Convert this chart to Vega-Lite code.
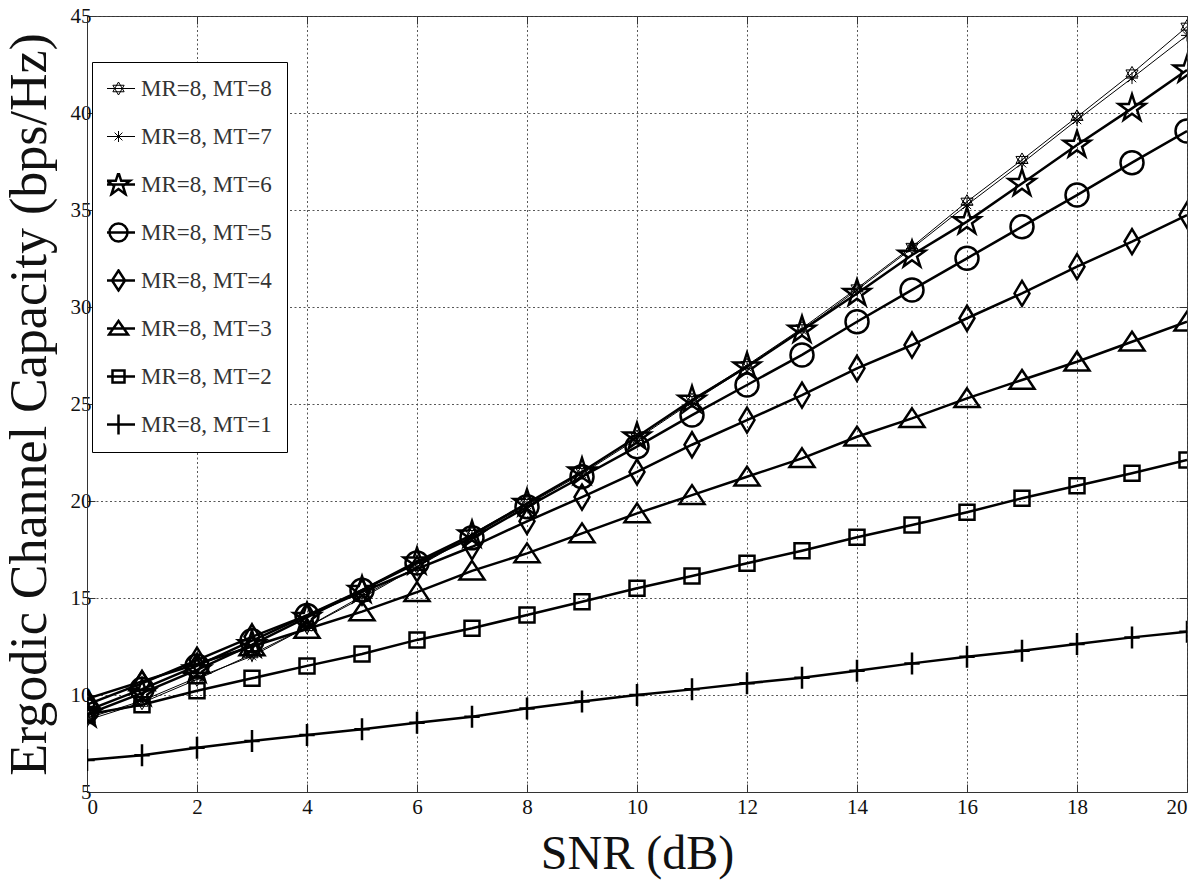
{
  "$schema": "https://vega.github.io/schema/vega-lite/v6.json",
  "width": 1100,
  "height": 776,
  "autosize": "none",
  "padding": {"left": 87, "top": 16, "right": 13, "bottom": 91},
  "background": "white",
  "config": {
    "view": {"stroke": "#333", "strokeWidth": 1},
    "axis": {
      "domainColor": "#333", "tickColor": "#333", "gridColor": "#444",
      "gridDash": [2, 2.5], "gridWidth": 0.9,
      "labelFont": "Liberation Serif", "labelColor": "#111",
      "titleFont": "Liberation Serif", "titleFontWeight": "normal", "titleColor": "#111"
    },
    "legend": {
      "orient": "none", "legendX": 5, "legendY": 46,
      "padding": 15, "rowPadding": 24, "clipHeight": 23, "labelFontSize": 23, "labelFont": "Liberation Serif", "labelColor": "#333",
      "labelOffset": 11, "symbolSize": 400, "strokeColor": "black", "fillColor": "white", "cornerRadius": 0,
      "symbolStrokeColor": "black", "symbolFillColor": "transparent"
    }
  },
  "datasets": {
    "cap": [
      {"snr": 0, "cap": 8.7, "series": "MR=8, MT=8"}, {"snr": 1, "cap": 9.6, "series": "MR=8, MT=8"}, {"snr": 2, "cap": 10.8, "series": "MR=8, MT=8"}, {"snr": 3, "cap": 12.1, "series": "MR=8, MT=8"}, {"snr": 4, "cap": 13.5, "series": "MR=8, MT=8"}, {"snr": 5, "cap": 15.0, "series": "MR=8, MT=8"}, {"snr": 6, "cap": 16.6, "series": "MR=8, MT=8"}, {"snr": 7, "cap": 18.3, "series": "MR=8, MT=8"}, {"snr": 8, "cap": 19.9, "series": "MR=8, MT=8"}, {"snr": 9, "cap": 21.5, "series": "MR=8, MT=8"}, {"snr": 10, "cap": 23.3, "series": "MR=8, MT=8"}, {"snr": 11, "cap": 25.2, "series": "MR=8, MT=8"}, {"snr": 12, "cap": 27.0, "series": "MR=8, MT=8"}, {"snr": 13, "cap": 28.9, "series": "MR=8, MT=8"}, {"snr": 14, "cap": 30.96, "series": "MR=8, MT=8"}, {"snr": 15, "cap": 33.1, "series": "MR=8, MT=8"}, {"snr": 16, "cap": 35.43, "series": "MR=8, MT=8"}, {"snr": 17, "cap": 37.58, "series": "MR=8, MT=8"}, {"snr": 18, "cap": 39.8, "series": "MR=8, MT=8"}, {"snr": 19, "cap": 42.04, "series": "MR=8, MT=8"}, {"snr": 20, "cap": 44.45, "series": "MR=8, MT=8"},
      {"snr": 0, "cap": 8.8, "series": "MR=8, MT=7"}, {"snr": 1, "cap": 9.7, "series": "MR=8, MT=7"}, {"snr": 2, "cap": 10.9, "series": "MR=8, MT=7"}, {"snr": 3, "cap": 12.0, "series": "MR=8, MT=7"}, {"snr": 4, "cap": 13.5, "series": "MR=8, MT=7"}, {"snr": 5, "cap": 15.1, "series": "MR=8, MT=7"}, {"snr": 6, "cap": 16.6, "series": "MR=8, MT=7"}, {"snr": 7, "cap": 18.2, "series": "MR=8, MT=7"}, {"snr": 8, "cap": 19.8, "series": "MR=8, MT=7"}, {"snr": 9, "cap": 21.4, "series": "MR=8, MT=7"}, {"snr": 10, "cap": 23.2, "series": "MR=8, MT=7"}, {"snr": 11, "cap": 25.1, "series": "MR=8, MT=7"}, {"snr": 12, "cap": 26.9, "series": "MR=8, MT=7"}, {"snr": 13, "cap": 28.8, "series": "MR=8, MT=7"}, {"snr": 14, "cap": 30.88, "series": "MR=8, MT=7"}, {"snr": 15, "cap": 33.02, "series": "MR=8, MT=7"}, {"snr": 16, "cap": 35.26, "series": "MR=8, MT=7"}, {"snr": 17, "cap": 37.41, "series": "MR=8, MT=7"}, {"snr": 18, "cap": 39.64, "series": "MR=8, MT=7"}, {"snr": 19, "cap": 41.8, "series": "MR=8, MT=7"}, {"snr": 20, "cap": 44.0, "series": "MR=8, MT=7"},
      {"snr": 0, "cap": 9.0, "series": "MR=8, MT=6"}, {"snr": 1, "cap": 10.1, "series": "MR=8, MT=6"}, {"snr": 2, "cap": 11.3, "series": "MR=8, MT=6"}, {"snr": 3, "cap": 12.6, "series": "MR=8, MT=6"}, {"snr": 4, "cap": 14.0, "series": "MR=8, MT=6"}, {"snr": 5, "cap": 15.4, "series": "MR=8, MT=6"}, {"snr": 6, "cap": 16.87, "series": "MR=8, MT=6"}, {"snr": 7, "cap": 18.25, "series": "MR=8, MT=6"}, {"snr": 8, "cap": 19.88, "series": "MR=8, MT=6"}, {"snr": 9, "cap": 21.5, "series": "MR=8, MT=6"}, {"snr": 10, "cap": 23.31, "series": "MR=8, MT=6"}, {"snr": 11, "cap": 25.2, "series": "MR=8, MT=6"}, {"snr": 12, "cap": 26.92, "series": "MR=8, MT=6"}, {"snr": 13, "cap": 28.81, "series": "MR=8, MT=6"}, {"snr": 14, "cap": 30.7, "series": "MR=8, MT=6"}, {"snr": 15, "cap": 32.68, "series": "MR=8, MT=6"}, {"snr": 16, "cap": 34.4, "series": "MR=8, MT=6"}, {"snr": 17, "cap": 36.37, "series": "MR=8, MT=6"}, {"snr": 18, "cap": 38.35, "series": "MR=8, MT=6"}, {"snr": 19, "cap": 40.24, "series": "MR=8, MT=6"}, {"snr": 20, "cap": 42.22, "series": "MR=8, MT=6"},
      {"snr": 0, "cap": 9.2, "series": "MR=8, MT=5"}, {"snr": 1, "cap": 10.3, "series": "MR=8, MT=5"}, {"snr": 2, "cap": 11.5, "series": "MR=8, MT=5"}, {"snr": 3, "cap": 12.8, "series": "MR=8, MT=5"}, {"snr": 4, "cap": 14.1, "series": "MR=8, MT=5"}, {"snr": 5, "cap": 15.4, "series": "MR=8, MT=5"}, {"snr": 6, "cap": 16.8, "series": "MR=8, MT=5"}, {"snr": 7, "cap": 18.1, "series": "MR=8, MT=5"}, {"snr": 8, "cap": 19.7, "series": "MR=8, MT=5"}, {"snr": 9, "cap": 21.25, "series": "MR=8, MT=5"}, {"snr": 10, "cap": 22.8, "series": "MR=8, MT=5"}, {"snr": 11, "cap": 24.43, "series": "MR=8, MT=5"}, {"snr": 12, "cap": 25.98, "series": "MR=8, MT=5"}, {"snr": 13, "cap": 27.53, "series": "MR=8, MT=5"}, {"snr": 14, "cap": 29.24, "series": "MR=8, MT=5"}, {"snr": 15, "cap": 30.88, "series": "MR=8, MT=5"}, {"snr": 16, "cap": 32.51, "series": "MR=8, MT=5"}, {"snr": 17, "cap": 34.14, "series": "MR=8, MT=5"}, {"snr": 18, "cap": 35.77, "series": "MR=8, MT=5"}, {"snr": 19, "cap": 37.44, "series": "MR=8, MT=5"}, {"snr": 20, "cap": 39.07, "series": "MR=8, MT=5"},
      {"snr": 0, "cap": 9.5, "series": "MR=8, MT=4"}, {"snr": 1, "cap": 10.6, "series": "MR=8, MT=4"}, {"snr": 2, "cap": 11.8, "series": "MR=8, MT=4"}, {"snr": 3, "cap": 13.0, "series": "MR=8, MT=4"}, {"snr": 4, "cap": 14.1, "series": "MR=8, MT=4"}, {"snr": 5, "cap": 15.3, "series": "MR=8, MT=4"}, {"snr": 6, "cap": 16.5, "series": "MR=8, MT=4"}, {"snr": 7, "cap": 17.64, "series": "MR=8, MT=4"}, {"snr": 8, "cap": 18.95, "series": "MR=8, MT=4"}, {"snr": 9, "cap": 20.2, "series": "MR=8, MT=4"}, {"snr": 10, "cap": 21.5, "series": "MR=8, MT=4"}, {"snr": 11, "cap": 22.9, "series": "MR=8, MT=4"}, {"snr": 12, "cap": 24.17, "series": "MR=8, MT=4"}, {"snr": 13, "cap": 25.46, "series": "MR=8, MT=4"}, {"snr": 14, "cap": 26.84, "series": "MR=8, MT=4"}, {"snr": 15, "cap": 28.04, "series": "MR=8, MT=4"}, {"snr": 16, "cap": 29.42, "series": "MR=8, MT=4"}, {"snr": 17, "cap": 30.7, "series": "MR=8, MT=4"}, {"snr": 18, "cap": 32.08, "series": "MR=8, MT=4"}, {"snr": 19, "cap": 33.37, "series": "MR=8, MT=4"}, {"snr": 20, "cap": 34.74, "series": "MR=8, MT=4"},
      {"snr": 0, "cap": 9.8, "series": "MR=8, MT=3"}, {"snr": 1, "cap": 10.7, "series": "MR=8, MT=3"}, {"snr": 2, "cap": 11.6, "series": "MR=8, MT=3"}, {"snr": 3, "cap": 12.5, "series": "MR=8, MT=3"}, {"snr": 4, "cap": 13.4, "series": "MR=8, MT=3"}, {"snr": 5, "cap": 14.3, "series": "MR=8, MT=3"}, {"snr": 6, "cap": 15.3, "series": "MR=8, MT=3"}, {"snr": 7, "cap": 16.4, "series": "MR=8, MT=3"}, {"snr": 8, "cap": 17.3, "series": "MR=8, MT=3"}, {"snr": 9, "cap": 18.33, "series": "MR=8, MT=3"}, {"snr": 10, "cap": 19.36, "series": "MR=8, MT=3"}, {"snr": 11, "cap": 20.3, "series": "MR=8, MT=3"}, {"snr": 12, "cap": 21.25, "series": "MR=8, MT=3"}, {"snr": 13, "cap": 22.2, "series": "MR=8, MT=3"}, {"snr": 14, "cap": 23.31, "series": "MR=8, MT=3"}, {"snr": 15, "cap": 24.26, "series": "MR=8, MT=3"}, {"snr": 16, "cap": 25.29, "series": "MR=8, MT=3"}, {"snr": 17, "cap": 26.24, "series": "MR=8, MT=3"}, {"snr": 18, "cap": 27.18, "series": "MR=8, MT=3"}, {"snr": 19, "cap": 28.21, "series": "MR=8, MT=3"}, {"snr": 20, "cap": 29.24, "series": "MR=8, MT=3"},
      {"snr": 0, "cap": 9.0, "series": "MR=8, MT=2"}, {"snr": 1, "cap": 9.5, "series": "MR=8, MT=2"}, {"snr": 2, "cap": 10.22, "series": "MR=8, MT=2"}, {"snr": 3, "cap": 10.86, "series": "MR=8, MT=2"}, {"snr": 4, "cap": 11.5, "series": "MR=8, MT=2"}, {"snr": 5, "cap": 12.11, "series": "MR=8, MT=2"}, {"snr": 6, "cap": 12.84, "series": "MR=8, MT=2"}, {"snr": 7, "cap": 13.44, "series": "MR=8, MT=2"}, {"snr": 8, "cap": 14.12, "series": "MR=8, MT=2"}, {"snr": 9, "cap": 14.81, "series": "MR=8, MT=2"}, {"snr": 10, "cap": 15.5, "series": "MR=8, MT=2"}, {"snr": 11, "cap": 16.13, "series": "MR=8, MT=2"}, {"snr": 12, "cap": 16.79, "series": "MR=8, MT=2"}, {"snr": 13, "cap": 17.44, "series": "MR=8, MT=2"}, {"snr": 14, "cap": 18.13, "series": "MR=8, MT=2"}, {"snr": 15, "cap": 18.76, "series": "MR=8, MT=2"}, {"snr": 16, "cap": 19.42, "series": "MR=8, MT=2"}, {"snr": 17, "cap": 20.14, "series": "MR=8, MT=2"}, {"snr": 18, "cap": 20.79, "series": "MR=8, MT=2"}, {"snr": 19, "cap": 21.43, "series": "MR=8, MT=2"}, {"snr": 20, "cap": 22.11, "series": "MR=8, MT=2"},
      {"snr": 0, "cap": 6.65, "series": "MR=8, MT=1"}, {"snr": 1, "cap": 6.9, "series": "MR=8, MT=1"}, {"snr": 2, "cap": 7.28, "series": "MR=8, MT=1"}, {"snr": 3, "cap": 7.63, "series": "MR=8, MT=1"}, {"snr": 4, "cap": 7.94, "series": "MR=8, MT=1"}, {"snr": 5, "cap": 8.23, "series": "MR=8, MT=1"}, {"snr": 6, "cap": 8.57, "series": "MR=8, MT=1"}, {"snr": 7, "cap": 8.88, "series": "MR=8, MT=1"}, {"snr": 8, "cap": 9.31, "series": "MR=8, MT=1"}, {"snr": 9, "cap": 9.66, "series": "MR=8, MT=1"}, {"snr": 10, "cap": 10.0, "series": "MR=8, MT=1"}, {"snr": 11, "cap": 10.29, "series": "MR=8, MT=1"}, {"snr": 12, "cap": 10.6, "series": "MR=8, MT=1"}, {"snr": 13, "cap": 10.89, "series": "MR=8, MT=1"}, {"snr": 14, "cap": 11.25, "series": "MR=8, MT=1"}, {"snr": 15, "cap": 11.63, "series": "MR=8, MT=1"}, {"snr": 16, "cap": 11.97, "series": "MR=8, MT=1"}, {"snr": 17, "cap": 12.28, "series": "MR=8, MT=1"}, {"snr": 18, "cap": 12.63, "series": "MR=8, MT=1"}, {"snr": 19, "cap": 12.97, "series": "MR=8, MT=1"}, {"snr": 20, "cap": 13.26, "series": "MR=8, MT=1"}
    ]
  },
  "data": {"name": "cap"},
  "resolve": {
    "axis": {"x": "independent", "y": "independent"},
    "scale": {"shape": "independent", "strokeWidth": "independent", "size": "independent"}
  },
  "layer": [
    {
      "mark": {"type": "line", "color": "black", "clip": true},
      "encoding": {
        "x": {"field": "snr", "type": "quantitative", "scale": {"domain": [0, 20], "nice": false},
          "axis": {"values": [0, 2, 4, 6, 8, 10, 12, 14, 16, 18, 20], "labelFontSize": 21, "labelPadding": 12, "tickSize": -8, "grid": true,
            "title": "SNR (dB)", "titleFontSize": 48, "titleX": 550, "titleY": 76, "titleBaseline": "alphabetic", "titleAlign": "center"}},
        "y": {"field": "cap", "type": "quantitative", "scale": {"domain": [5, 45], "nice": false, "zero": false},
          "axis": {"values": [5, 10, 15, 20, 25, 30, 35, 40, 45], "labelFontSize": 21, "labelPadding": 4, "tickSize": -8, "grid": true,
            "title": "Ergodic Channel Capacity (bps/Hz)", "titleFontSize": 52, "titleAngle": -90, "titleX": -42, "titleY": 388, "titleAlign": "center", "titleBaseline": "alphabetic"}},
        "detail": {"field": "series"},
        "strokeWidth": {"field": "series", "type": "nominal", "legend": null,
          "scale": {"type": "ordinal", "domain": ["MR=8, MT=8", "MR=8, MT=7", "MR=8, MT=6", "MR=8, MT=5", "MR=8, MT=4", "MR=8, MT=3", "MR=8, MT=2", "MR=8, MT=1"], "range": [1, 1, 2.5, 2.5, 2.5, 2.5, 2.5, 2.5]}}
      }
    },
    {
      "mark": {"type": "point", "filled": false, "color": "black", "opacity": 1, "clip": true},
      "encoding": {
        "x": {"field": "snr", "type": "quantitative", "axis": null},
        "y": {"field": "cap", "type": "quantitative", "axis": null},
        "shape": {"field": "series", "type": "nominal", "legend": null,
          "scale": {"domain": ["MR=8, MT=8", "MR=8, MT=7", "MR=8, MT=6", "MR=8, MT=5", "MR=8, MT=4", "MR=8, MT=3", "MR=8, MT=2", "MR=8, MT=1"],
            "range": [
              "M0,-1L0.866,0.5L-0.866,0.5ZM0,1L0.866,-0.5L-0.866,-0.5Z",
              "M0,-1L0,1M-1,0L1,0M-0.7,-0.7L0.7,0.7M-0.7,0.7L0.7,-0.7",
              "M0,-1L0.225,-0.309L0.951,-0.309L0.363,0.118L0.588,0.809L0,0.382L-0.588,0.809L-0.363,0.118L-0.951,-0.309L-0.225,-0.309Z",
              "M1,0A1,1 0 1,1 -1,0A1,1 0 1,1 1,0Z",
              "M0,-1L0.6,0L0,1L-0.6,0Z",
              "M0,-0.8L1,0.7L-1,0.7Z",
              "M-1,-1L1,-1L1,1L-1,1Z",
              "M-0.7,0L0.7,0M0,-1L0,1"
            ]}},
        "size": {"field": "series", "type": "nominal", "legend": null,
          "scale": {"type": "ordinal", "domain": ["MR=8, MT=8", "MR=8, MT=7", "MR=8, MT=6", "MR=8, MT=5", "MR=8, MT=4", "MR=8, MT=3", "MR=8, MT=2", "MR=8, MT=1"], "range": [196, 144, 784, 529, 625, 625, 225, 484]}},
        "strokeWidth": {"field": "series", "type": "nominal", "legend": null,
          "scale": {"type": "ordinal", "domain": ["MR=8, MT=8", "MR=8, MT=7", "MR=8, MT=6", "MR=8, MT=5", "MR=8, MT=4", "MR=8, MT=3", "MR=8, MT=2", "MR=8, MT=1"], "range": [1, 1, 2.5, 2.5, 2.5, 2.5, 2.5, 2.5]}}
      }
    },
    {
      "transform": [{"filter": "datum.snr < 0"}],
      "mark": {"type": "point", "filled": false, "color": "black", "opacity": 1},
      "encoding": {
        "x": {"field": "snr", "type": "quantitative", "axis": null},
        "y": {"field": "cap", "type": "quantitative", "axis": null},
        "shape": {"field": "series", "type": "nominal", "legend": {"title": null},
          "scale": {"domain": ["MR=8, MT=8", "MR=8, MT=7", "MR=8, MT=6", "MR=8, MT=5", "MR=8, MT=4", "MR=8, MT=3", "MR=8, MT=2", "MR=8, MT=1"],
            "range": [
              "M-1.65,0L1.65,0M0,-0.65L0.563,0.325L-0.563,0.325ZM0,0.65L0.563,-0.325L-0.563,-0.325Z",
              "M-1.65,0L1.65,0M0,-0.55L0,0.55M-0.39,-0.39L0.39,0.39M-0.39,0.39L0.39,-0.39",
              "M-1.65,0L1.65,0M0,-1.2L0.27,-0.371L1.141,-0.371L0.436,0.142L0.706,0.971L0,0.458L-0.706,0.971L-0.436,0.142L-1.141,-0.371L-0.27,-0.371Z",
              "M-1.65,0L1.65,0M0.9,0A0.9,0.9 0 1,1 -0.9,0A0.9,0.9 0 1,1 0.9,0Z",
              "M-1.65,0L1.65,0M0,-1L0.65,0L0,1L-0.65,0Z",
              "M-1.65,0L1.65,0M0,-0.75L0.95,0.6L-0.95,0.6Z",
              "M-1.65,0L1.65,0M-0.6,-0.6L0.6,-0.6L0.6,0.6L-0.6,0.6Z",
              "M-1.65,0L1.65,0M0,-1L0,1"
            ]}},
        "strokeWidth": {"field": "series", "type": "nominal", "legend": {"title": null},
          "scale": {"type": "ordinal", "domain": ["MR=8, MT=8", "MR=8, MT=7", "MR=8, MT=6", "MR=8, MT=5", "MR=8, MT=4", "MR=8, MT=3", "MR=8, MT=2", "MR=8, MT=1"], "range": [1, 1, 2.5, 2.5, 2.5, 2.5, 2.5, 2.5]}}
      }
    },
    {
      "mark": {"type": "point", "opacity": 0},
      "encoding": {
        "x": {"field": "snr", "type": "quantitative",
          "axis": {"orient": "top", "values": [0, 2, 4, 6, 8, 10, 12, 14, 16, 18, 20], "labels": false, "tickSize": -8, "grid": false, "domain": false, "title": null}},
        "y": {"field": "cap", "type": "quantitative",
          "axis": {"orient": "right", "values": [5, 10, 15, 20, 25, 30, 35, 40, 45], "labels": false, "tickSize": -8, "grid": false, "domain": false, "title": null}}
      }
    }
  ]
}
